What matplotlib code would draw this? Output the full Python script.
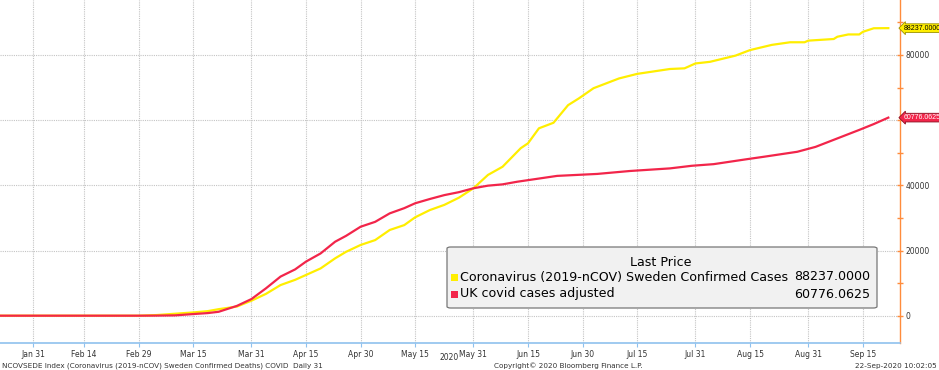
import matplotlib
matplotlib.use("Agg")
import matplotlib.pyplot as plt
import matplotlib.dates as mdates
from matplotlib.patches import FancyBboxPatch, Rectangle
import numpy as np
import pandas as pd

# ---- data ----
sweden_dates = ["2020-01-22", "2020-02-29", "2020-03-05", "2020-03-10", "2020-03-15",
                "2020-03-19", "2020-03-22", "2020-03-27", "2020-03-31", "2020-04-04",
                "2020-04-08", "2020-04-12", "2020-04-15", "2020-04-19", "2020-04-23",
                "2020-04-26", "2020-04-30", "2020-05-04", "2020-05-08", "2020-05-12",
                "2020-05-15", "2020-05-19", "2020-05-23", "2020-05-27", "2020-05-31",
                "2020-06-04", "2020-06-08", "2020-06-13", "2020-06-15", "2020-06-18",
                "2020-06-22", "2020-06-26", "2020-06-29", "2020-07-03", "2020-07-10",
                "2020-07-15", "2020-07-24", "2020-07-28", "2020-07-31", "2020-08-04",
                "2020-08-11", "2020-08-15", "2020-08-21", "2020-08-26", "2020-08-30",
                "2020-08-31", "2020-09-07", "2020-09-08", "2020-09-11", "2020-09-14",
                "2020-09-15", "2020-09-18", "2020-09-22"]
sweden_values = [0, 0, 200, 600, 1000,
                 1400, 2000, 2800, 4600, 6700,
                 9400, 11000, 12500, 14500, 17600,
                 19600, 21700, 23200, 26300, 27800,
                 30200, 32400, 34000, 36200, 39100,
                 43200, 45700, 51400, 52900, 57500,
                 59200, 64600, 66700, 69800, 72800,
                 74200, 75700, 75900, 77400, 77900,
                 79800, 81500, 83100, 83900, 83900,
                 84400, 84900, 85600, 86300, 86300,
                 87100, 88200, 88237]

uk_dates = ["2020-01-22", "2020-02-29", "2020-03-05", "2020-03-10", "2020-03-15",
            "2020-03-19", "2020-03-22", "2020-03-27", "2020-03-31", "2020-04-04",
            "2020-04-08", "2020-04-12", "2020-04-15", "2020-04-19", "2020-04-23",
            "2020-04-26", "2020-04-30", "2020-05-04", "2020-05-08", "2020-05-12",
            "2020-05-15", "2020-05-19", "2020-05-23", "2020-05-27", "2020-05-31",
            "2020-06-04", "2020-06-08", "2020-06-12", "2020-06-23", "2020-07-04",
            "2020-07-13", "2020-07-24", "2020-07-30", "2020-08-05", "2020-08-14",
            "2020-08-19", "2020-08-28", "2020-09-02", "2020-09-08", "2020-09-14",
            "2020-09-18", "2020-09-22"]
uk_values = [0, 0, 30, 100, 500,
             800, 1200, 3000, 5100, 8400,
             12000, 14200, 16600, 19100, 22700,
             24500, 27300, 28800, 31400, 33000,
             34500, 35800, 37000, 37900, 39100,
             39900, 40300, 41100, 42900, 43500,
             44400, 45200, 46000, 46500, 48000,
             48800, 50300, 51800, 54400, 57000,
             58800, 60776.0625]

series_labels = ["Coronavirus (2019-nCOV) Sweden Confirmed Cases", "UK covid cases adjusted"]
last_values = ["88237.0000", "60776.0625"]
tick_dates = ["2020-01-31", "2020-02-14", "2020-02-29", "2020-03-15", "2020-03-31",
              "2020-04-15", "2020-04-30", "2020-05-15", "2020-05-31", "2020-06-15",
              "2020-06-30", "2020-07-15", "2020-07-31", "2020-08-15", "2020-08-31",
              "2020-09-15"]
tick_labels = ["Jan 31", "Feb 14", "Feb 29", "Mar 15", "Mar 31", "Apr 15", "Apr 30",
               "May 15", "May 31", "Jun 15", "Jun 30", "Jul 15", "Jul 31", "Aug 15",
               "Aug 31", "Sep 15"]
y_ticks = [0, 20000, 40000, 60000, 80000]
y_tick_labels = ["0", "20000", "40000", "", "80000"]  # 60000 is hidden under the red tag

YELLOW = "#FFEE00"
RED = "#F2254A"
ORANGE = "#FF8C3C"
BLUE = "#8FC1EE"

W, H = 939, 370
fig = plt.figure(figsize=(W / 100, H / 100), dpi=100)
ax = fig.add_axes([0, 1 - 343 / H, 900 / W, 343 / H])

sd = pd.to_datetime(sweden_dates)
ud = pd.to_datetime(uk_dates)
ax.plot(sd, sweden_values, color=YELLOW, lw=1.6, zorder=3)
ax.plot(ud, uk_values, color=RED, lw=1.6, zorder=4)

ax.set_xlim(pd.Timestamp("2020-01-21 22:00"), pd.Timestamp("2020-09-25 05:00"))
ax.set_ylim(-8380, 96870)

td = pd.to_datetime(tick_dates)
ax.set_xticks(td)
ax.set_xticklabels(tick_labels, fontsize=5.5, color="#333333")
ax.yaxis.tick_right()
ax.set_yticks(y_ticks)
ax.set_yticklabels(y_tick_labels, fontsize=5.5, color="#333333")
ax.set_yticks([10000, 30000, 50000, 70000, 90000], minor=True)
ax.tick_params(axis="y", which="both", colors=ORANGE, labelcolor="#333333",
               length=4, width=1, direction="inout", pad=2)
ax.tick_params(axis="x", length=3, colors=BLUE, labelcolor="#333333", pad=2)

ax.grid(True, which="major", color="#c4c4c4", linestyle=(0, (1, 1)), lw=0.8)
for s in ["top", "left"]:
    ax.spines[s].set_visible(False)
ax.spines["bottom"].set_color(BLUE)
ax.spines["bottom"].set_linewidth(1.2)
ax.spines["right"].set_color(ORANGE)
ax.spines["right"].set_linewidth(1.0)

# last value tags
tag_font = ["Liberation Sans Narrow", "Liberation Sans", "DejaVu Sans"]
ax.annotate(last_values[0], xy=(1.0, sweden_values[-1]), xycoords=("axes fraction", "data"),
            xytext=(2.5, 0), textcoords="offset points", fontsize=5.0, color="black",
            family=tag_font, va="center", ha="left", annotation_clip=False,
            bbox=dict(boxstyle="larrow,pad=0.12", fc=YELLOW, ec="#9a9000", lw=0.6))
ax.annotate(last_values[1], xy=(1.0, uk_values[-1]), xycoords=("axes fraction", "data"),
            xytext=(2.5, 0), textcoords="offset points", fontsize=5.0, color="white",
            family=tag_font, va="center", ha="left", annotation_clip=False,
            bbox=dict(boxstyle="larrow,pad=0.12", fc=RED, ec="#8a1020", lw=0.6))

# legend box
def fx(px):
    return px / W

def fy(py):
    return 1 - py / H

box = FancyBboxPatch((fx(447), fy(308)), fx(877) - fx(447), fy(247) - fy(308),
                     boxstyle="round,pad=0,rounding_size=0.004", transform=fig.transFigure,
                     fc="#F1F1F1", ec="#777777", lw=0.9, zorder=10)
fig.add_artist(box)
fig.text(fx(661), fy(262), "Last Price", fontsize=9.1, ha="center", va="center", zorder=11)
for i, (lab, val, col) in enumerate(zip(series_labels, last_values, [YELLOW, RED])):
    yy = 277 + i * 17
    fig.add_artist(Rectangle((fx(451), fy(yy + 3.5)), fx(7), 7 / H, transform=fig.transFigure,
                             fc=col, ec="none", zorder=11))
    fig.text(fx(460), fy(yy), lab, fontsize=9.1, ha="left", va="center", zorder=11)
    fig.text(fx(870), fy(yy), val, fontsize=9.1, ha="right", va="center", zorder=11)

# footer texts
fig.text(fx(449), fy(358), "2020", fontsize=5.5, ha="center", va="center", color="#333333")
fig.text(fx(2), fy(366), "NCOVSEDE Index (Coronavirus (2019-nCOV) Sweden Confirmed Deaths) COVID  Daily 31",
         fontsize=5.2, ha="left", va="center", color="#333333")
fig.text(fx(568), fy(366), "Copyright\u00a9 2020 Bloomberg Finance L.P.", fontsize=5.2,
         ha="center", va="center", color="#333333")
fig.text(fx(937), fy(366), "22-Sep-2020 10:02:05", fontsize=5.2, ha="right", va="center",
         color="#333333")

fig.savefig("out.png", dpi=100)
